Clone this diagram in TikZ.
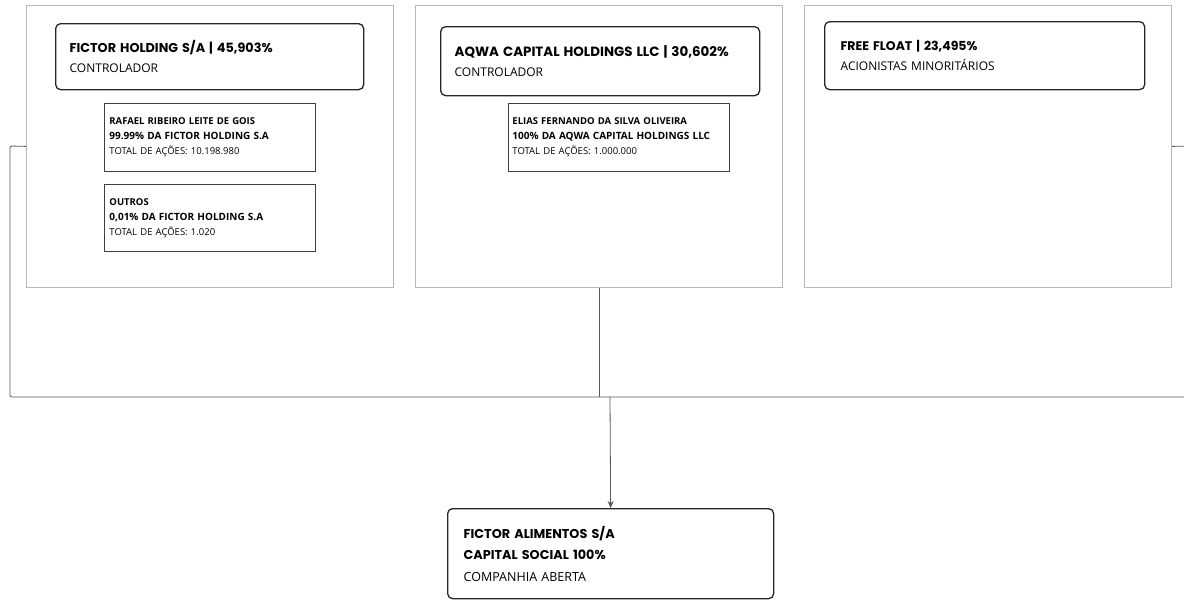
\documentclass[tikz,border=0pt]{standalone}
\usepackage{fontspec}
\setmainfont{Open Sans}
\newfontfamily\headfont{Poppins}
\usetikzlibrary{arrows.meta}
\newcommand{\holdtitle}[2]{{\headfont\bfseries\fontsize{#1}{20}\selectfont #2}}

\begin{document}
\begin{tikzpicture}[x=1pt, y=-1pt,
    panel/.style={draw=black!28, line width=0.8pt, anchor=north west, inner sep=0pt,
                  minimum width=367, minimum height=282},
    holder/.style={draw=black!85, line width=1.3pt, rounded corners=5pt, anchor=north west,
                   align=left, inner xsep=14pt, inner ysep=0pt,
                   font=\fontsize{12}{20}\selectfont},
    sharebox/.style={draw=black!75, line width=0.9pt, anchor=north west, align=left,
                     inner xsep=5pt, inner ysep=0pt, minimum height=68,
                     font=\fontsize{9.5}{15}\selectfont},
    link/.style={draw=black!65, line width=0.8pt, rounded corners=2pt}]
  \clip (0,0) rectangle (1184,600);
  \fill[white] (0,0) rectangle (1184,600);

  % shareholder panels
  \node[panel] (fictor) at (26,5) {};
  \node[panel] (aqwa) at (415,5) {};
  \node[panel] (float) at (804,5) {};

  \node[holder, text width=280, minimum height=66] (fictorhd) at (55,23)
    {\holdtitle{12.8}{FICTOR HOLDING S/A | 45,903\%}\\ CONTROLADOR};
  \node[holder, text width=291, minimum height=69] (aqwahd) at (440,26)
    {\holdtitle{13.4}{AQWA CAPITAL HOLDINGS LLC | 30,602\%}\\ CONTROLADOR};
  \node[holder, inner xsep=16pt, text width=288, minimum height=68] (floathd) at (824,21)
    {\holdtitle{12.5}{FREE FLOAT | 23,495\%}\\ ACIONISTAS MINORITÁRIOS};

  % owners
  \node[sharebox, text width=201] (rafael) at (104,103)
    {\textbf{RAFAEL RIBEIRO LEITE DE GOIS}\\
     \textbf{\fontsize{10}{15}\selectfont 99.99\% DA FICTOR HOLDING S.A}\\
     TOTAL DE AÇÕES: 10.198.980};
  \node[sharebox, text width=201, minimum height=67] (outros) at (104,184)
    {\textbf{OUTROS}\\
     \textbf{\fontsize{10}{15}\selectfont 0,01\% DA FICTOR HOLDING S.A}\\
     TOTAL DE AÇÕES: 1.020};
  \node[sharebox, inner xsep=4pt, text width=213] (elias) at (508,103)
    {\textbf{ELIAS FERNANDO DA SILVA OLIVEIRA}\\
     \textbf{\fontsize{10}{15}\selectfont 100\% DA AQWA CAPITAL HOLDINGS LLC}\\
     TOTAL DE AÇÕES: 1.000.000};

  % company
  \node[holder, inner xsep=16pt, text width=294, minimum height=90,
        font=\fontsize{12.5}{21.5}\selectfont] (alimentos) at (447,508)
    {{\headfont\bfseries\fontsize{12.8}{21.5}\selectfont FICTOR ALIMENTOS S/A}\\
     {\headfont\bfseries\fontsize{12.8}{21.5}\selectfont CAPITAL SOCIAL 100\%}\\
     COMPANHIA ABERTA};

  % connectors
  \coordinate (lbend) at (10,146);
  \coordinate (rbend) at (1196,146);
  \coordinate (merge) at (610,397);
  \draw[link] (fictor.west) -- (lbend) |- (merge);
  \draw[link] (float.east) -- (rbend) |- (merge);
  \draw[link] (aqwa.south) -- (aqwa.south |- merge);
  \draw[link, rounded corners=0pt, -{Stealth[length=7pt, width=6pt]}] (merge) -- (alimentos.north);
\end{tikzpicture}
\end{document}
